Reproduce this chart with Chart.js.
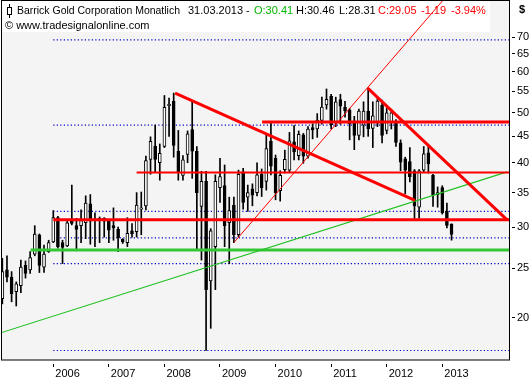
<!DOCTYPE html>
<html>
<head>
<meta charset="utf-8">
<script src="https://cdn.jsdelivr.net/npm/chart.js@4"></script>
<style>
  html, body { margin: 0; padding: 0; background: #fff; }
  #chart { display: block; }
</style>
</head>
<body>
<canvas id="chart" width="532" height="380"></canvas>
<script>
  // months are counted from Jan 2005 = 0, first candle is Feb 2005
  const firstMonth = 1;
  const lastDate = '31.03.2013';

  const opens = [
    21.8, 24.8, 24.0, 22.5, 23.1, 25.3, 24.8, 26.6, 29.0, 25.1, 26.9,
    28.1, 31.3, 28.0, 27.6, 31.0, 30.2, 30.2, 30.6, 33.3, 31.1, 30.9, 31.2,
    30.8, 30.2, 29.7, 28.4, 28.0, 29.5, 29.4, 32.5, 33.0, 40.6, 43.1, 40.0,
    43.0, 51.6, 52.6, 42.1, 37.8, 41.5, 46.4, 42.1, 32.9, 36.8, 23.6, 27.5,
    35.8, 36.1, 30.6, 33.1, 29.0, 38.4, 34.3, 35.6, 35.0, 38.0, 36.8, 44.0,
    40.8, 35.3, 38.8, 38.7, 43.9, 41.3, 45.3, 41.2, 46.8, 46.5, 48.3, 51.8,
    53.8, 47.9, 53.0, 51.3, 50.6, 47.7, 45.2, 47.3, 50.4, 46.6, 47.7, 51.7,
    46.2, 48.0, 48.0, 43.7, 40.7, 40.2, 38.6, 32.8, 38.7, 41.8, 37.8, 34.7,
    35.8, 32.2, 30.41
  ];
  const highs = [
    26.1, 26.4, 24.6, 23.5, 25.9, 25.8, 26.9, 30.2, 29.1, 27.7, 28.3,
    32.3, 31.5, 28.3, 31.0, 36.2, 31.2, 32.4, 34.5, 34.7, 32.0, 31.4, 31.3,
    31.0, 32.7, 30.0, 28.5, 31.3, 30.5, 35.0, 35.1, 41.2, 44.9, 47.3, 43.5,
    54.0, 53.4, 54.6, 46.2, 41.3, 46.1, 52.5, 43.0, 38.5, 38.5, 29.8, 37.9,
    40.8, 39.6, 34.3, 34.3, 38.7, 39.0, 36.2, 36.4, 40.0, 38.9, 45.4, 48.0,
    41.4, 38.6, 42.3, 45.8, 47.2, 46.1, 45.6, 47.0, 47.6, 49.8, 53.6, 55.6,
    54.3, 53.6, 54.3, 52.6, 51.0, 49.2, 50.8, 52.5, 55.8, 52.5, 53.3, 52.9,
    51.1, 50.8, 48.5, 44.3, 41.0, 42.8, 38.8, 38.8, 43.0, 43.0, 38.0, 35.9,
    36.1, 33.4, 30.46
  ];
  const lows = [
    21.3, 23.5, 21.5, 21.1, 22.4, 23.9, 24.4, 26.4, 24.5, 24.5, 26.8,
    28.0, 27.3, 25.5, 27.5, 30.3, 27.0, 28.0, 28.5, 27.8, 27.5, 28.0, 28.7,
    28.0, 28.3, 26.9, 27.9, 27.5, 28.7, 28.7, 29.0, 32.4, 38.0, 38.4, 37.0,
    42.8, 45.0, 41.0, 37.0, 37.0, 40.0, 37.3, 27.1, 25.9, 17.3, 19.1, 22.7,
    33.5, 27.5, 25.5, 28.0, 28.7, 32.5, 32.2, 33.0, 34.5, 34.4, 35.4, 37.9,
    33.9, 33.7, 38.2, 38.3, 40.5, 40.5, 39.9, 40.8, 44.5, 44.8, 47.5, 50.8,
    46.5, 47.0, 47.5, 49.0, 44.3, 42.4, 44.3, 44.9, 45.0, 42.8, 47.0, 43.7,
    45.5, 46.5, 43.0, 38.6, 34.8, 36.7, 31.1, 31.2, 38.4, 38.2, 32.9, 32.8,
    31.8, 29.9, 28.31
  ];
  const closes = [
    24.6, 24.0, 22.3, 23.3, 25.1, 24.4, 26.2, 29.1, 25.3, 26.6, 28.0,
    31.3, 27.5, 27.4, 30.6, 30.5, 29.7, 30.9, 33.4, 30.8, 30.9, 31.2, 30.8,
    29.6, 29.9, 28.6, 28.1, 29.2, 29.1, 33.1, 32.7, 40.4, 44.0, 40.6, 41.7,
    51.2, 51.9, 43.2, 38.4, 40.5, 45.5, 42.1, 35.0, 36.8, 22.7, 29.5, 36.8,
    37.6, 30.2, 32.3, 29.0, 38.0, 33.5, 35.0, 34.6, 37.9, 35.8, 42.6, 39.4,
    35.0, 37.8, 40.6, 44.1, 42.0, 45.4, 41.2, 46.5, 46.3, 48.4, 51.3, 53.1,
    47.4, 52.5, 51.5, 50.4, 47.6, 45.2, 50.4, 50.4, 46.5, 49.3, 52.7, 45.2,
    50.0, 50.0, 43.8, 40.1, 38.7, 37.6, 33.0, 38.6, 41.6, 39.8, 34.6, 35.0,
    32.0, 30.24, 29.05
  ];

  const yearTicks = [12, 24, 36, 48, 60, 72, 84, 96];
  const yearLabels = ['2006', '2007', '2008', '2009', '2010', '2011', '2012', '2013'];
  const priceTicks = [20, 25, 30, 35, 40, 45, 50, 55, 60, 65, 70];

  // drawn lines: month positions and prices at both ends
  const greenTrendX = [0.5, 110.0], greenTrendY = [18.7, 38.4];
  const supportX = [7.1, 110.41], supportY = [27.1, 27.1];
  const redLowX = [12, 110.41], redLowY = [31.0, 31.0];
  const redMidX = [30.0, 110.41], redMidY = [38.3, 38.3];
  const redHighX = [57.1, 110.41], redHighY = [48.0, 48.0];
  const redDown08X = [38.3, 90.1], redDown08Y = [54.6, 33.8];
  const redDown11X = [79.9, 110.0], redDown11Y = [55.8, 31.0];
  const redUp09X = [51.0, 96.2], redUp09Y = [28.0, 82.7];
  const dottedLevels = [69.2, 47.3, 32.2, 28.6, 25.5, 17.3];
  const dottedX = [12, 110.41];

  const X_MIN = 0.71, X_MAX = 110.41;
  const Y_MIN = 16.58, Y_MAX = 82.34;

  const FONT = "'Liberation Sans', Arial, sans-serif";
  Chart.defaults.font.family = FONT;
  Chart.defaults.font.size = 11;

  const candleX = opens.map((_, k) => firstMonth + k);

  function lineSet(xs, ys, color, width, order, dash) {
    return {
      type: 'line',
      data: xs.map((x, k) => ({ x: x, y: ys[k] })),
      borderColor: color, borderWidth: width, borderDash: dash || [],
      pointRadius: 0, fill: false, tension: 0, order: order, borderCapStyle: 'butt'
    };
  }

  const datasets = [];
  dottedLevels.forEach(v => datasets.push(lineSet(dottedX, [v, v], '#0000c8', 1.2, 6, [1.2, 2.3])));
  datasets.push({
    type: 'bar', data: candleX.map((x, k) => ({ x: x, y: [lows[k], highs[k]] })),
    backgroundColor: '#000', borderWidth: 0, barThickness: 1, grouped: false, order: 5
  });
  datasets.push({
    type: 'bar', data: candleX.map((x, k) => ({ x: x, y: [opens[k], closes[k]] })),
    backgroundColor: closes.map((c, k) => c >= opens[k] ? '#ffffff' : '#000000'),
    borderColor: '#000', borderWidth: 1, borderSkipped: false, barThickness: 3,
    minBarLength: 1, grouped: false, order: 4
  });
  datasets.push(lineSet(greenTrendX, greenTrendY, '#22c022', 1.1, 3));
  datasets.push(lineSet(supportX, supportY, '#33c833', 3, 3));
  datasets.push(lineSet(redMidX, redMidY, '#ff0000', 2, 2));
  datasets.push(lineSet(redUp09X, redUp09Y, '#ff0000', 1, 2));
  datasets.push(lineSet(redLowX, redLowY, '#ff0000', 3, 1));
  datasets.push(lineSet(redHighX, redHighY, '#ff0000', 3, 1));
  datasets.push(lineSet(redDown08X, redDown08Y, '#ff0000', 3, 1));
  datasets.push(lineSet(redDown11X, redDown11Y, '#ff0000', 3, 1));

  const n = closes.length;
  const change = closes[n - 1] - closes[n - 2];
  const changePct = change / closes[n - 2] * 100;

  const framePlugin = {
    id: 'frame',
    beforeDraw(chart) {
      const { ctx, chartArea: a } = chart;
      ctx.save();
      ctx.fillStyle = '#fff';
      ctx.fillRect(0, 0, chart.width, chart.height);
      ctx.fillStyle = '#f4f4f4';
      ctx.fillRect(a.left, a.top, a.right - a.left, a.bottom - a.top);
      ctx.restore();
    },
    beforeDatasetsDraw(chart) {
      const ctx = chart.ctx;
      ctx.save();
      ctx.fillStyle = '#fff';
      ctx.fillRect(2, 1, 488, 31);
      // small candle icon
      ctx.strokeStyle = '#000';
      ctx.lineWidth = 1;
      ctx.beginPath(); ctx.moveTo(9.5, 4); ctx.lineTo(9.5, 18); ctx.stroke();
      ctx.fillStyle = '#fff';
      ctx.fillRect(7.5, 7.5, 4, 7);
      ctx.strokeRect(7.5, 7.5, 4, 7);
      ctx.font = '11px ' + FONT;
      ctx.textBaseline = 'middle';
      const parts = [
        ['Barrick Gold Corporation Monatlich', 17, '#000', 163],
        [lastDate + ' -', 188, '#000'],
        ['O:' + opens[n - 1].toFixed(2), 254, '#00b400'],
        ['H:' + highs[n - 1].toFixed(2), 296, '#000'],
        ['L:' + lows[n - 1].toFixed(2), 339, '#000'],
        ['C:' + closes[n - 1].toFixed(2), 378, '#ff0000'],
        [change.toFixed(2), 421, '#ff0000'],
        [changePct.toFixed(2) + '%', 451, '#ff0000']
      ];
      parts.forEach(p => {
        ctx.fillStyle = p[2];
        if (p[3]) ctx.fillText(p[0], p[1], 11, p[3]); else ctx.fillText(p[0], p[1], 11);
      });
      ctx.fillStyle = '#000';
      ctx.fillText('\u00a9 www.tradesignalonline.com', 5, 26);
      ctx.restore();
    },
    afterDraw(chart) {
      const { ctx, chartArea: a } = chart;
      ctx.save();
      ctx.strokeStyle = '#000';
      ctx.lineWidth = 1;
      ctx.strokeRect(a.left + 0.5, a.top - 0.5, a.right - a.left, a.bottom - a.top + 0.5);
      ctx.fillStyle = '#000';
      ctx.font = 'bold 11px ' + FONT;
      ctx.textBaseline = 'middle';
      ctx.fillText('$', 519, 10);
      ctx.restore();
    }
  };

  new Chart(document.getElementById('chart'), {
    type: 'bar',
    data: { datasets: datasets },
    options: {
      responsive: false,
      animation: false,
      events: [],
      layout: { padding: { left: 1, top: 1, right: 0, bottom: 0 } },
      plugins: { legend: { display: false }, tooltip: { enabled: false } },
      scales: {
        x: {
          type: 'linear', min: X_MIN, max: X_MAX, offset: false, position: 'bottom',
          grid: { drawOnChartArea: false, offset: false, tickLength: 7, tickColor: '#000', tickBorderDash: [0, 4, 3] },
          border: { display: false },
          ticks: {
            color: '#000', padding: 0, maxRotation: 0, autoSkip: false, align: 'start', labelOffset: 2,
            callback: v => { const j = yearTicks.indexOf(v); return j >= 0 ? yearLabels[j] : ''; }
          },
          afterBuildTicks: s => { s.ticks = yearTicks.map(v => ({ value: v })); },
          afterFit: s => { s.height = 20; s.paddingLeft = 0; s.paddingRight = 0; }
        },
        y: {
          type: 'logarithmic', position: 'right', min: Y_MIN, max: Y_MAX,
          grid: { drawOnChartArea: false, tickLength: 6, tickColor: '#000', tickBorderDash: [0, 3, 3] },
          border: { display: false },
          ticks: { color: '#000', padding: 2, autoSkip: false, callback: v => String(v) },
          afterBuildTicks: s => { s.ticks = priceTicks.map(v => ({ value: v })); },
          afterFit: s => { s.width = 23; s.paddingTop = 0; s.paddingBottom = 0; }
        }
      }
    },
    plugins: [framePlugin]
  });
</script>
</body>
</html>
